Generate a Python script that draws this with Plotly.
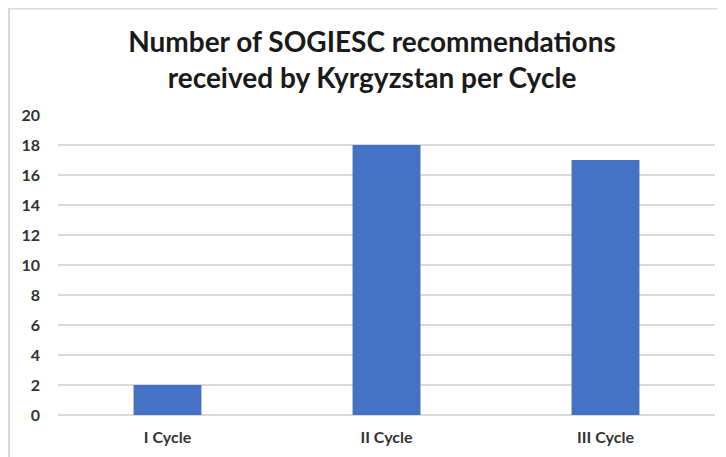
import plotly.graph_objects as go

categories = ["I Cycle", "II Cycle", "III Cycle"]
values = [2, 18, 17]
y_ticks = list(range(0, 21, 2))

# page has an 8px body margin, so figure is drawn at (8, 8)
W, H = 718, 449
L, R, T, B = 50, 11, 107, 42
pw, ph = W - L - R, H - T - B

def px(x):
    return (x - L) / pw

def py(y):
    return (H - B - y) / ph

fig = go.Figure(go.Bar(x=categories, y=values, marker_color="#4472C4",
                       marker_line_width=0, width=0.31))

fig.update_layout(
    width=W, height=H,
    margin=dict(l=L, r=R, t=T, b=B),
    plot_bgcolor="white", paper_bgcolor="white",
    font=dict(family="Lato", color="#333333", size=16),
    title=dict(text="<b>Number of SOGIESC recommendations<br>received by Kyrgyzstan per Cycle</b>",
               x=364 / W, xanchor="center", y=1 - 44 / H, yanchor="middle",
               font=dict(family="Lato", size=28, color="#1a1a1a")),
    showlegend=False,
    xaxis=dict(showgrid=False, showline=False, ticks="", ticklabelstandoff=11,
               tickfont=dict(size=16, color="#333333", weight="bold")),
    yaxis=dict(range=[0, 20], tickvals=y_ticks, showgrid=True, gridcolor="#d9d9d9",
               gridwidth=1.5, zeroline=True, zerolinecolor="#d9d9d9", zerolinewidth=1.5,
               ticks="", ticklabelstandoff=17,
               tickfont=dict(size=16, color="#333333", weight="bold")),
    shapes=[
        dict(type="line", xref="paper", yref="paper",
             x0=px(1), x1=px(1), y0=py(H + 5), y1=py(0.5),
             line=dict(color="#d9d9d9", width=2)),
        dict(type="line", xref="paper", yref="paper",
             x0=px(0), x1=px(W + 5), y0=py(0.5), y1=py(0.5),
             line=dict(color="#d9d9d9", width=2)),
    ],
)

fig.write_html("out.html")
